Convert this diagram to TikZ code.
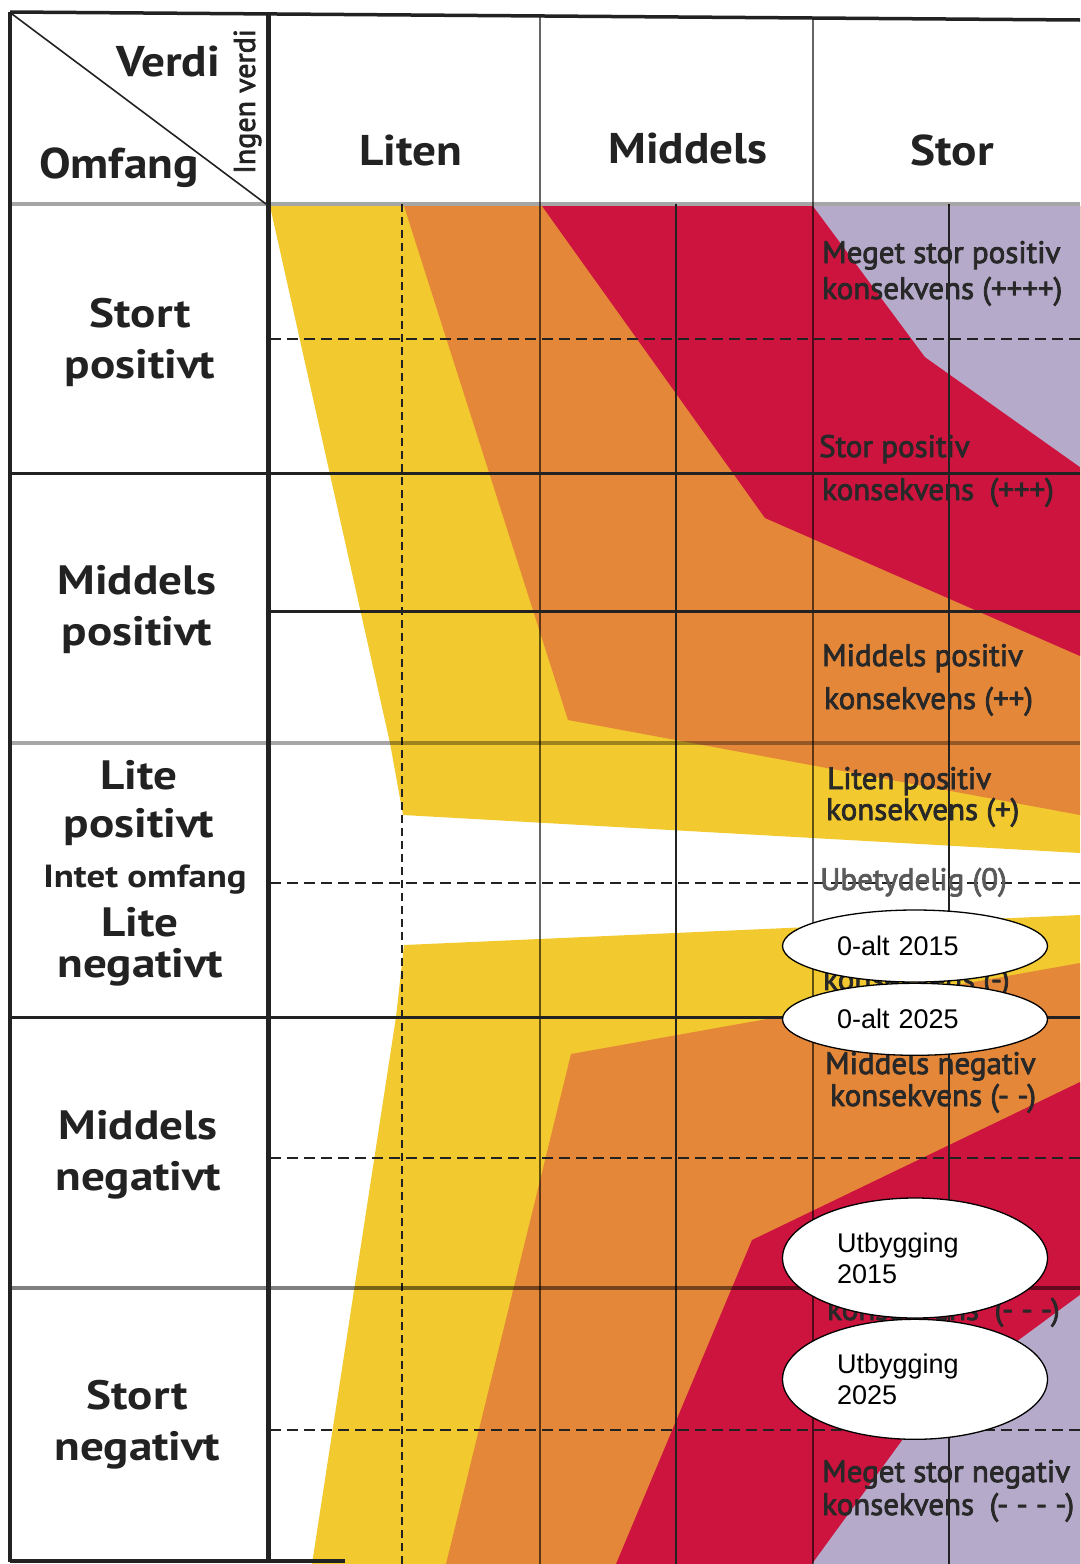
\documentclass[tikz,border=0pt]{standalone}
\usepackage{fontspec}
\setmainfont{PT Sans}
\newfontfamily\ellfont{Liberation Sans}
\newfontfamily\headfont{PT Sans}[FakeStretch=1.1]
\newfontfamily\rowfont{PT Sans}[FakeStretch=1.15]
\newfontfamily\consfont{PT Sans}[FakeBold=2.5]
\usepackage{xcolor}
\usepackage{tikz}
\usetikzlibrary{
    positioning,
    shapes.geometric
}
\definecolor{fieldYellow}{RGB}{242, 201, 46}
\definecolor{fieldOrange}{RGB}{229, 135, 57}
\definecolor{fieldRed}{RGB}{204, 20, 62}
\definecolor{fieldLilac}{RGB}{181, 170, 201}
\definecolor{lineDark}{RGB}{34, 34, 34}
\definecolor{textDark}{RGB}{40, 40, 40}

\tikzset{
    gridSolid/.style={line width=3pt, lineDark},
    gridDashed/.style={line width=2.5pt, lineDark, dash pattern=on 11pt off 6pt},
    gridShade/.style={line width=4pt, black, opacity=0.35},
    gridThin/.style={line width=2.5pt, black, opacity=0.6},
    headLabel/.style={font=\headfont\bfseries\fontsize{43}{50}\selectfont, text=lineDark, inner sep=0pt},
    rowLabel/.style={font=\rowfont\bfseries\fontsize{41}{51}\selectfont, text=lineDark, align=center, inner sep=0pt},
    consLabel/.style={font=\consfont\fontsize{31}{36}\selectfont, text=textDark, anchor=base west, inner sep=0pt},
    caseMark/.style={ellipse, draw=black, line width=1.3pt, fill=white, minimum width=265pt,
        inner sep=0pt, text width=156pt, align=left, font=\ellfont\fontsize{27}{31}\selectfont}
}

\begin{document}
\begin{tikzpicture}[x=1pt, y=-1pt]
    \useasboundingbox (0,0) rectangle (1080,1564);

    % Fields, positive half
    \fill[fieldYellow] (270,206) -- (390,743) -- (403,815) -- (1080,853) -- (1080,206) -- cycle;
    \fill[fieldOrange] (404,206) -- (568,720) -- (1080,815) -- (1080,206) -- cycle;
    \fill[fieldRed] (542,206) -- (765,518) -- (1080,656) -- (1080,206) -- cycle;
    \fill[fieldLilac] (813,206) -- (925,357) -- (1080,467) -- (1080,206) -- cycle;

    % Fields, negative half
    \fill[fieldYellow] (404,945) -- (396,1017) -- (312,1564) -- (1080,1564) -- (1080,915) -- cycle;
    \fill[fieldOrange] (571,1054) -- (446,1564) -- (1080,1564) -- (1080,963) -- cycle;
    \fill[fieldRed] (752,1240) -- (616,1564) -- (1080,1564) -- (1080,1082) -- cycle;
    \fill[fieldLilac] (925,1409) -- (812,1564) -- (1080,1564) -- (1080,1295) -- cycle;

    % Columns
    \draw[gridThin] (540,15) -- (540,1564);
    \draw[gridThin] (813,17) -- (813,1564);
    \draw[gridSolid, line width=2.5pt] (676,204) -- (676,1564);
    \draw[gridSolid, line width=2.5pt] (949,204) -- (949,1564);
    \draw[gridDashed, line width=2.2pt, dash pattern=on 8pt off 5pt] (402,204) -- (402,1564);

    % Rows
    \draw[gridShade] (10,204) -- (1080,204);
    \draw[gridDashed] (270,339) -- (1080,339);
    \draw[gridSolid] (10,473) -- (1080,473);
    \draw[gridSolid] (270,611) -- (1080,611);
    \draw[gridShade] (10,743) -- (1080,743);
    \draw[gridDashed] (270,883) -- (1080,883);
    \draw[gridSolid] (10,1017) -- (1080,1017);
    \draw[gridDashed] (270,1158) -- (1080,1158);
    \draw[gridShade, opacity=0.5] (10,1288) -- (1080,1288);
    \draw[gridDashed] (270,1430) -- (1080,1430);

    % Frame
    \draw[line width=3.5pt, lineDark] (10,12) -- (1080,20);
    \draw[line width=3.5pt, lineDark] (10,12) -- (10,1562);
    \draw[line width=5pt, lineDark] (268,14) -- (268,1562);
    \draw[line width=3.5pt, lineDark] (10,1561) -- (345,1561);
    \draw[line width=1.6pt, lineDark] (12,14) -- (266,204);

    % Header
    \node[headLabel] (verdi) at (168,62) {Verdi};
    \node[headLabel] (omfang) at (119,168) {Omfang};
    \node[font=\consfont\fontsize{30}{35}\selectfont, text=lineDark, inner sep=0pt, rotate=90] (ingen) at (247.5,101.5) {Ingen verdi};
    \node[headLabel] (liten) at (411,151) {Liten};
    \node[headLabel] (middels) at (688,149) {Middels};
    \node[headLabel] (stor) at (952,150) {Stor};

    % Scope labels
    \node[rowLabel] (stPos) at (140,342) {Stort\\positivt};
    \node[rowLabel] (midPos) at (137,610) {Middels\\positivt};
    \node[rowLabel] (litePos) at (139,803) {Lite\\[-3pt]positivt};
    \node[font=\rowfont\bfseries\fontsize{32}{36}\selectfont, text=lineDark, inner sep=0pt, anchor=base] (intet) at (145,887) {Intet omfang};
    \node[rowLabel] (liteNeg) at (140,947) {Lite\\[-10pt]negativt};
    \node[rowLabel] (midNeg) at (138,1155) {Middels\\negativt};
    \node[rowLabel] (stNeg) at (137,1425) {Stort\\negativt};

    % Consequence labels
    \node[consLabel] (p4a) at (822,263) {Meget stor positiv};
    \node[consLabel] (p4b) at (822,299) {konsekvens (++++)};
    \node[consLabel] (p3a) at (819,457) {Stor positiv};
    \node[consLabel] (p3b) at (822,500) {konsekvens\enspace(+++)};
    \node[consLabel] (p2a) at (822,666) {Middels positiv};
    \node[consLabel] (p2b) at (824,709) {konsekvens (++)};
    \node[consLabel] (p1a) at (827,789) {Liten positiv};
    \node[consLabel] (p1b) at (826,820) {konsekvens (+)};
    \node[consLabel, text=black!65] (zero) at (820,890) {Ubetydelig (0)};
    \node[consLabel] (n1b) at (823,990) {konsekvens (-)};
    \node[consLabel] (n2a) at (825,1074) {Middels negativ};
    \node[consLabel] (n2b) at (830,1106) {konsekvens (- -)};
    \node[consLabel] (n3b) at (827,1320) {konsekvens\enspace(- - -)};
    \node[consLabel] (n4a) at (822,1482) {Meget stor negativ};
    \node[consLabel] (n4b) at (822,1515) {konsekvens\enspace(- - - -)};

    % Cases
    \node[caseMark, minimum height=72pt] (alt15) at (915,946) {0-alt 2015};
    \node[caseMark, minimum height=72pt, below=0pt of alt15] (alt25) {0-alt 2025};
    \node[caseMark, minimum height=120pt] (utb15) at (915,1258) {Utbygging\\2015};
    \node[caseMark, minimum height=120pt, below=0pt of utb15] (utb25) {Utbygging\\2025};
\end{tikzpicture}
\end{document}
